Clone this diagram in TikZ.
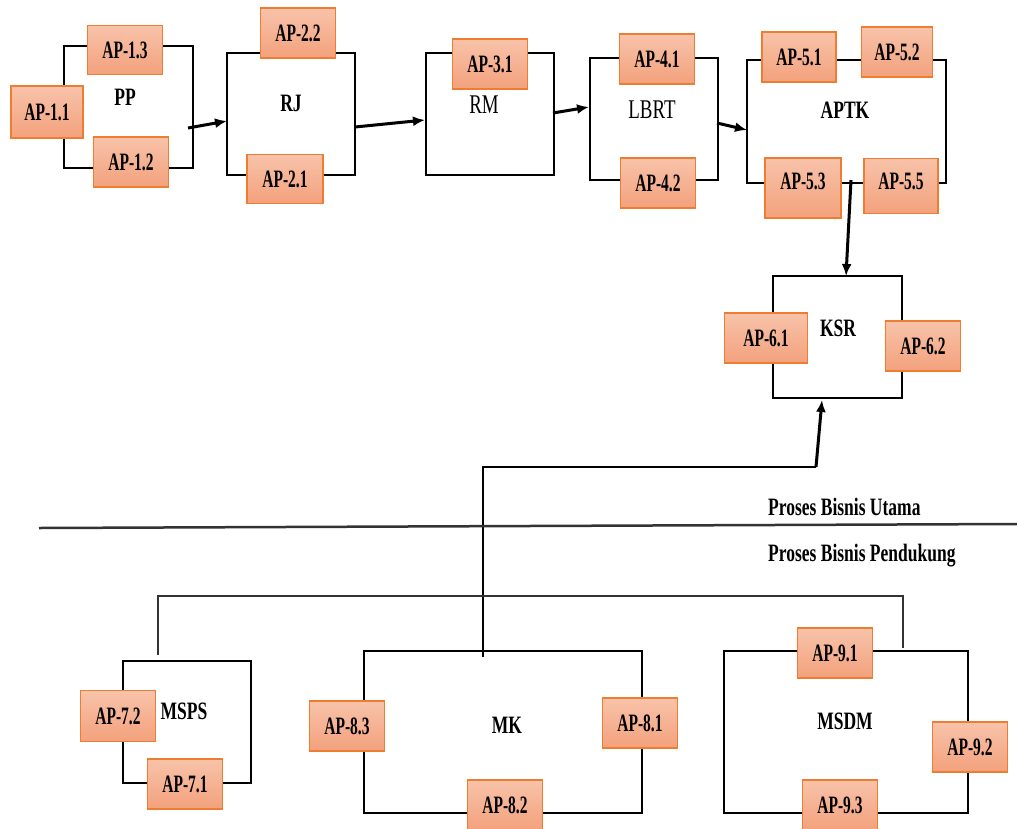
\documentclass[tikz,border=0pt]{standalone}
\usepackage{fontspec}
\setmainfont{Liberation Serif}
\newfontfamily\apfont[FakeStretch=0.62]{Liberation Serif}
\newfontfamily\lblfont[FakeStretch=0.7]{Liberation Serif}
\usetikzlibrary{arrows.meta}
\definecolor{apedge}{HTML}{ED7D31}
\definecolor{aptop}{HTML}{F8C3AA}
\definecolor{apbot}{HTML}{F3A17C}
\definecolor{rule}{HTML}{333333}

\begin{document}
\begin{tikzpicture}[x=1pt,y=-1pt,
  frame/.style={draw=black, line width=2pt, inner sep=0pt},
  apbox/.style={draw=apedge, line width=1.8pt, top color=aptop, bottom color=apbot,
    inner sep=0pt, minimum width=75pt, minimum height=50pt,
    font=\apfont\bfseries\fontsize{25}{28}\selectfont},
  lbl/.style={font=\lblfont\bfseries\fontsize{25}{28}\selectfont, inner sep=0pt},
  lblr/.style={font=\lblfont\fontsize{27}{30}\selectfont, inner sep=0pt},
  note/.style={font=\lblfont\bfseries\fontsize{25}{28}\selectfont, inner sep=0pt, anchor=west},
  flow/.style={line width=3pt, -{Latex[length=12pt,width=10pt]}},
  link/.style={line width=1.8pt},
]
\useasboundingbox (0,0) rectangle (1017,828);

% process frames
\node[frame, minimum width=129pt, minimum height=122pt] (PP)   at (128.5,107) {};
\node[frame, minimum width=128pt, minimum height=122pt] (RJ)   at (291,114) {};
\node[frame, minimum width=128pt, minimum height=122pt] (RM)   at (490,114) {};
\node[frame, minimum width=128pt, minimum height=122pt] (LBRT) at (654,119) {};
\node[frame, minimum width=199pt, minimum height=123pt] (APTK) at (846.5,121.5) {};
\node[frame, minimum width=129pt, minimum height=122pt] (KSR)  at (837.5,337) {};
\node[frame, minimum width=128pt, minimum height=122pt] (MSPS) at (187,722) {};
\node[frame, minimum width=278pt, minimum height=162pt] (MK)   at (503,732) {};
\node[frame, minimum width=244pt, minimum height=162pt] (MSDM) at (846,732) {};

% frame titles
\node[lbl]  (PP-t)   at (125,97)  {PP};
\node[lbl]  (RJ-t)   at (291,103) {RJ};
\node[lblr] (RM-t)   at (484,105) {RM};
\node[lblr] (LBRT-t) at (652,110) {LBRT};
\node[lbl]  (APTK-t) at (845,110) {APTK};
\node[lbl]  (KSR-t)  at (838,328) {KSR};
\node[lbl]  (MSPS-t) at (184,711) {MSPS};
\node[lbl]  (MK-t)   at (507,725) {MK};
\node[lbl]  (MSDM-t) at (845,721) {MSDM};

% activity boxes
\node[apbox, minimum width=72pt, minimum height=52pt] (a11) at (47,112) {AP-1.1};
\node[apbox, minimum height=49pt] (a13) at (125,50)  {AP-1.3};
\node[apbox] (a12) at (131,162) {AP-1.2};
\node[apbox] (a22) at (298,33)  {AP-2.2};
\node[apbox, minimum width=76pt, minimum height=49pt] (a21) at (285,179) {AP-2.1};
\node[apbox] (a31) at (490,64)  {AP-3.1};
\node[apbox] (a41) at (657,59)  {AP-4.1};
\node[apbox] (a42) at (658,183) {AP-4.2};
\node[apbox, minimum width=74pt] (a51) at (799,57)  {AP-5.1};
\node[apbox, minimum width=71pt] (a52) at (897,52)  {AP-5.2};
\node[apbox, minimum width=76pt, minimum height=60pt, text depth=14pt] (a53) at (803,188) {AP-5.3};
\node[apbox, minimum width=74pt, minimum height=55pt, text depth=9pt] (a55) at (901,186) {AP-5.5};
\node[apbox, minimum width=83pt] (a61) at (766,338) {AP-6.1};
\node[apbox] (a62) at (923,346) {AP-6.2};
\node[apbox, minimum height=51pt] (a72) at (118,716) {AP-7.2};
\node[apbox] (a71) at (185,784) {AP-7.1};
\node[apbox] (a83) at (347,726) {AP-8.3};
\node[apbox] (a81) at (640,723) {AP-8.1};
\node[apbox] (a82) at (505,805) {AP-8.2};
\node[apbox] (a91) at (835,653) {AP-9.1};
\node[apbox] (a92) at (970,747) {AP-9.2};
\node[apbox] (a93) at (840,805) {AP-9.3};

% connector end points
\coordinate (pp-out)   at (188,128);
\coordinate (rj-in)    at (227,121);
\coordinate (rj-out)   at (355,127);
\coordinate (rm-in)    at (425,120);
\coordinate (rm-out)   at (553,113);
\coordinate (lbrt-in)  at (589,107);
\coordinate (lbrt-out) at (717,123);
\coordinate (aptk-in)  at (747,130);
\coordinate (aptk-out) at (851,180);
\coordinate (ksr-in)   at (846,276);
\coordinate (mk-up)    at (483,657);
\coordinate (mk-bend)  at (483,467);
\coordinate (ksr-bend) at (816,467);
\coordinate (ksr-foot) at (822,400);
\coordinate (msps-up)  at (158,655);
\coordinate (tree-l)   at (158,596);
\coordinate (tree-r)   at (903,596);
\coordinate (msdm-up)  at (903,648);
\coordinate (div-l)    at (39,528);
\coordinate (div-r)    at (1017,524);

% main flow
\draw[flow] (pp-out) -- (rj-in);
\draw[flow] (rj-out) -- (rm-in);
\draw[flow] (rm-out) -- (lbrt-in);
\draw[flow] (lbrt-out) -- (aptk-in);
\draw[flow] (aptk-out) -- (ksr-in);

% support link into KSR
\draw[link] (mk-up) -- (mk-bend) -- (ksr-bend);
\draw[flow] (ksr-bend) -- (ksr-foot);

% support processes tree
\draw[link, draw=rule] (msps-up) -- (tree-l) -- (tree-r) -- (msdm-up);

% divider between main and support processes
\draw[line width=2.5pt, draw=rule] (div-l) -- (div-r);
\node[note] (main-t) at (768,507) {Proses Bisnis Utama};
\node[note] (supp-t) at (768,556) {Proses Bisnis Pendukung};
\end{tikzpicture}
\end{document}
